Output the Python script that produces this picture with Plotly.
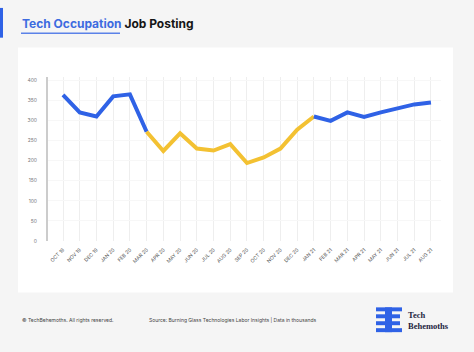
import plotly.graph_objects as go

months = ["OCT 19", "NOV 19", "DEC 19", "JAN 20", "FEB 20", "MAR 20", "APR 20", "MAY 20",
          "JUN 20", "JUL 20", "AUG 20", "SEP 20", "OCT 20", "NOV 20", "DEC 20", "JAN 21",
          "FEB 21", "MAR 21", "APR 21", "MAY 21", "JUN 21", "JUL 21", "AUG 21"]
postings = [364, 320, 310, 360, 365, 272, 224, 268, 230, 225, 241, 194, 208, 230, 277, 310,
            299, 320, 309, 320, 330, 340, 345]
yticks = [0, 50, 100, 150, 200, 250, 300, 350, 400]
# segments: (start index, end index, colour)
segments = [(0, 5, "#2f62e6"), (5, 15, "#f3c132"), (15, 22, "#2f62e6")]

W, H = 474, 352
px = lambda x: x / W
py = lambda y: 1 - y / H

fig = go.Figure()
idx = list(range(len(months)))
for s, e, c in segments:
    fig.add_trace(go.Scatter(x=idx[s:e + 1], y=postings[s:e + 1], mode="lines",
                             line=dict(color=c, width=4), hoverinfo="skip", showlegend=False))

shapes = []
# white panel
shapes.append(dict(type="rect", xref="paper", yref="paper", x0=px(18), x1=px(453), y0=py(295), y1=py(48),
                   fillcolor="white", line=dict(width=0), layer="below"))
# accent bar
shapes.append(dict(type="rect", xref="paper", yref="paper", x0=px(0), x1=px(3), y0=py(38), y1=py(8),
                   fillcolor="#2f62e6", line=dict(width=0)))
# title underline
shapes.append(dict(type="line", xref="paper", yref="paper", x0=px(21), x1=px(120), y0=py(33.5), y1=py(33.5),
                   line=dict(color="#5b82e8", width=1.5)))
# logo bars
logo_rects = [(376, 402, 310, 314), (376, 385, 317, 321), (392, 400, 317, 321),
              (376, 385, 324, 328), (392, 400, 324, 328), (376, 402, 331, 335),
              (385, 392, 310, 335)]
for x0, x1, y0, y1 in logo_rects:
    shapes.append(dict(type="rect", xref="paper", yref="paper", x0=px(x0), x1=px(x1), y0=py(y1), y1=py(y0),
                       fillcolor="#2f62e6", line=dict(width=0)))

annotations = [
    dict(text="<b><span style='color:#3d6be0'>Tech Occupation</span> Job Posting</b>",
         xref="paper", yref="paper", x=px(20), y=py(24), xanchor="left", yanchor="middle",
         showarrow=False, font=dict(family="Inter", size=12, color="#151515")),
    dict(text="© TechBehemoths. All rights reserved.", xref="paper", yref="paper",
         x=px(20), y=py(323), xanchor="left", yanchor="middle", showarrow=False,
         font=dict(family="Inter", size=5, color="#444")),
    dict(text="Source: Burning Glass Technologies Labor Insights | Data in thousands", xref="paper", yref="paper",
         x=px(147), y=py(323), xanchor="left", yanchor="middle", showarrow=False,
         font=dict(family="Inter", size=5, color="#444")),
    dict(text="<b>Tech<br>Behemoths</b>", xref="paper", yref="paper", x=px(406), y=py(323),
         xanchor="left", yanchor="middle", align="left", showarrow=False,
         font=dict(family="Liberation Serif", size=8.5, color="#1d2440")),
]

fig.update_layout(
    width=W, height=H, margin=dict(l=0, r=0, t=0, b=0),
    paper_bgcolor="#f5f5f5", plot_bgcolor="rgba(0,0,0,0)",
    shapes=shapes, annotations=annotations,
    xaxis=dict(domain=[px(48), px(441)], range=[-0.897, 22.6], tickmode="array",
               tickvals=idx, ticktext=months, tickangle=-45, showgrid=True,
               gridcolor="#eeeeee", gridwidth=1, zeroline=False, showline=False,
               ticks="outside", ticklen=3, tickcolor="rgba(0,0,0,0)",
               tickfont=dict(family="Inter", size=5, color="#555")),
    yaxis=dict(domain=[py(243), py(78)], range=[0, 407.4], tickmode="array", tickvals=yticks,
               showgrid=True, gridcolor="#f7f7f7", zeroline=False, showline=True,
               linecolor="#cccccc", linewidth=2, ticks="outside", ticklen=8,
               tickcolor="rgba(0,0,0,0)", tickfont=dict(family="Inter", size=5, color="#777")),
)

fig.write_html("out.html")
